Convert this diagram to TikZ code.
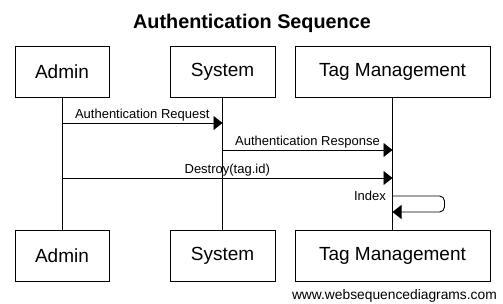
\documentclass[tikz,border=0pt]{standalone}
\usepackage{fontspec}
\setmainfont{Liberation Sans}
\usetikzlibrary{arrows.meta}
\tikzset{
  actor/.style={draw,line width=0.9pt,minimum height=51pt,inner sep=0pt,font=\fontsize{19}{22}\selectfont},
  msg/.style={line width=0.9pt,-{Triangle[length=9pt,width=14pt]}},
  lbl/.style={above,inner sep=1.5pt,font=\fontsize{13}{15}\selectfont}
}
\begin{document}
\begin{tikzpicture}[x=1pt,y=-1pt]
\useasboundingbox (0,0) rectangle (503,304);
\node [font=\bfseries\fontsize{19.8}{22}\selectfont] (title) at (252,23) {Authentication Sequence};
% participants, top and bottom
\node [actor,minimum width=94pt]  (adminTop) at (62,71.5)  {Admin};
\node [actor,minimum width=105pt] (sysTop)   at (222.5,71.5) {System};
\node [actor,minimum width=195pt] (tagTop)   at (392.5,71.5) {Tag Management};
\node [actor,minimum width=94pt]  (adminBot) at (62,255.5)  {Admin};
\node [actor,minimum width=105pt] (sysBot)   at (222.5,255.5) {System};
\node [actor,minimum width=195pt] (tagBot)   at (392.5,255.5) {Tag Management};
% lifelines
\draw [line width=0.9pt] (adminTop) -- (adminBot);
\draw [line width=0.9pt] (sysTop) -- (sysBot);
\draw [line width=0.9pt] (tagTop) -- (tagBot);
% messages
\draw [msg] (adminTop |- 0,123) -- node [lbl] {Authentication Request} (sysTop |- 0,123);
\draw [msg] (sysTop |- 0,150) -- node [lbl] {Authentication Response} (tagTop |- 0,150);
\draw [msg] (adminTop |- 0,178) -- node [lbl] {Destroy(tag.id)} (tagTop |- 0,178);
\coordinate (idxOut) at (tagTop |- 0,196);
\coordinate (idxIn) at (tagTop |- 0,212);
\draw [msg,rounded corners=5pt] (idxOut) -- ++(52,0) |- (idxIn);
\node [left,inner sep=0pt,font=\fontsize{13}{15}\selectfont] (idx) at (386,196) {Index};
\node [anchor=east,inner sep=0pt,font=\fontsize{13.8}{16}\selectfont] (site) at (497,296) {www.websequencediagrams.com};
\end{tikzpicture}
\end{document}
